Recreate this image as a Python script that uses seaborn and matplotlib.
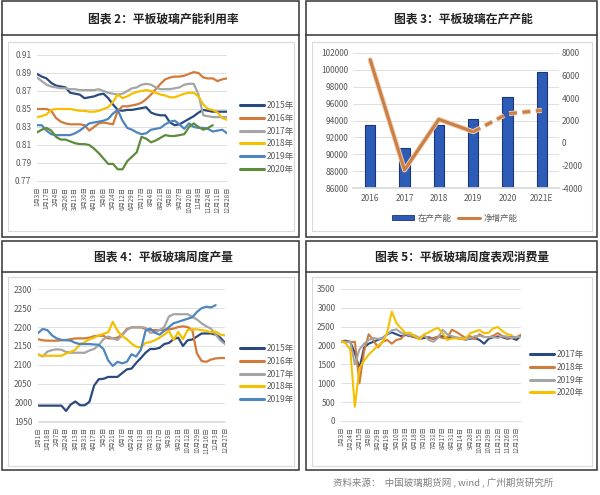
import numpy as np
import pandas as pd
import matplotlib
matplotlib.use('Agg')
import matplotlib.pyplot as plt
import matplotlib.patheffects as pe
from matplotlib.patches import Rectangle, Patch
from matplotlib.lines import Line2D
import seaborn as sns

sns.set_theme(style='white')
plt.rcParams['font.family'] = ['Noto Sans CJK SC', 'DejaVu Sans']
plt.rcParams['axes.unicode_minus'] = False

# ---------------- data: 图表2 平板玻璃产能利用率 ----------------
x1_labels = ['1月3日', '1月17日', '2月4日', '2月26日', '3月13日', '3月30日', '4月19日',
             '5月6日', '5月24日', '6月12日', '6月29日', '7月17日', '8月4日', '8月21日',
             '9月8日', '9月27日', '10月20日', '11月8日', '11月24日', '12月11日', '12月28日']
util_2015 = [0.889, 0.886, 0.884, 0.879, 0.876, 0.875, 0.874, 0.868, 0.867, 0.866, 0.862,
             0.863, 0.864, 0.866, 0.867, 0.862, 0.855, 0.849, 0.848, 0.849, 0.849, 0.850,
             0.851, 0.852, 0.846, 0.844, 0.843, 0.843, 0.835, 0.832, 0.833, 0.836, 0.839,
             0.842, 0.846, 0.849, 0.848, 0.847, 0.847, 0.847, 0.847]
util_2016 = [0.850, 0.850, 0.850, 0.848, 0.840, 0.836, 0.834, 0.833, 0.833, 0.833, 0.832,
             0.826, 0.830, 0.834, 0.835, 0.834, 0.833, 0.848, 0.853, 0.853, 0.854, 0.855,
             0.857, 0.861, 0.866, 0.872, 0.878, 0.883, 0.885, 0.886, 0.886, 0.887, 0.889,
             0.891, 0.890, 0.885, 0.884, 0.884, 0.881, 0.883, 0.884]
util_2017 = [0.885, 0.881, 0.877, 0.875, 0.874, 0.873, 0.873, 0.872, 0.872, 0.871, 0.871,
             0.871, 0.871, 0.872, 0.870, 0.868, 0.867, 0.866, 0.867, 0.870, 0.873, 0.874,
             0.877, 0.878, 0.877, 0.874, 0.872, 0.872, 0.872, 0.873, 0.874, 0.877, 0.878,
             0.878, 0.866, 0.843, 0.842, 0.841, 0.841, 0.841, 0.841]
util_2018 = [0.841, 0.842, 0.844, 0.849, 0.850, 0.850, 0.850, 0.850, 0.849, 0.848, 0.848,
             0.847, 0.847, 0.848, 0.850, 0.852, 0.858, 0.866, 0.862, 0.864, 0.867, 0.869,
             0.870, 0.871, 0.870, 0.868, 0.866, 0.865, 0.863, 0.863, 0.865, 0.867, 0.868,
             0.868, 0.864, 0.855, 0.850, 0.849, 0.846, 0.840, 0.838]
util_2019 = [0.832, 0.832, 0.826, 0.822, 0.821, 0.821, 0.821, 0.821, 0.823, 0.826, 0.830,
             0.834, 0.835, 0.836, 0.837, 0.839, 0.845, 0.849, 0.837, 0.829, 0.827, 0.824,
             0.822, 0.823, 0.827, 0.828, 0.829, 0.833, 0.836, 0.837, 0.833, 0.828, 0.834,
             0.830, 0.829, 0.829, 0.828, 0.825, 0.826, 0.827, 0.823]
util_2020 = [0.824, 0.827, 0.829, 0.826, 0.819, 0.816, 0.816, 0.814, 0.812, 0.811, 0.811,
             0.810, 0.806, 0.801, 0.795, 0.789, 0.789, 0.783, 0.783, 0.792, 0.797, 0.802,
             0.819, 0.817, 0.813, 0.815, 0.818, 0.821, 0.820, 0.820, 0.821, 0.822, 0.830,
             0.834, 0.830, 0.827, 0.829, 0.832, np.nan, np.nan, np.nan]

# ---------------- data: 图表3 平板玻璃在产产能 ----------------
cap_years = ['2016', '2017', '2018', '2019', '2020', '2021E']
cap_running = [93500, 90800, 93500, 94200, 96800, 99700]
cap_net_add = [7400, -2400, 2100, 1000, 2600, 2900]

# ---------------- data: 图表4 平板玻璃周度产量 ----------------
x3_labels = ['1月1日', '1月18日', '2月7日', '2月24日', '3月13日', '3月31日', '4月17日',
             '5月5日', '5月21日', '6月7日', '6月24日', '7月13日', '7月31日', '8月17日',
             '9月3日', '9月21日', '10月12日', '10月29日', '11月16日', '12月3日', '12月27日']
out_2015 = [1992, 1992, 1992, 1992, 1992, 1992, 1978, 1995, 2003, 1993, 1993, 2002, 2045,
            2062, 2063, 2068, 2068, 2068, 2078, 2088, 2090, 2105, 2118, 2132, 2142, 2142,
            2145, 2155, 2158, 2168, 2172, 2150, 2165, 2167, 2175, 2183, 2183, 2183, 2180,
            2172, 2158]
out_2016 = [2168, 2165, 2164, 2164, 2164, 2165, 2166, 2168, 2170, 2170, 2170, 2172, 2176,
            2177, 2177, 2170, 2170, 2172, 2180, 2195, 2199, 2199, 2199, 2195, 2192, 2192,
            2192, 2193, 2194, 2196, 2200, 2202, 2200, 2192, 2130, 2110, 2108, 2114, 2117,
            2118, 2118]
out_2017 = [2128, 2122, 2135, 2139, 2141, 2140, 2134, 2132, 2132, 2132, 2132, 2138, 2142,
            2152, 2168, 2175, 2170, 2166, 2178, 2192, 2200, 2200, 2200, 2198, 2185, 2186,
            2192, 2200, 2228, 2234, 2234, 2234, 2234, 2227, 2220, 2210, 2202, 2196, 2180,
            2165, 2155]
out_2018 = [2126, 2124, 2124, 2124, 2124, 2124, 2130, 2134, 2140, 2155, 2160, 2168, 2172,
            2178, 2182, 2186, 2214, 2190, 2176, 2168, 2156, 2148, 2146, 2158, 2160, 2165,
            2172, 2180, 2190, 2166, 2187, 2168, 2192, 2194, 2194, 2192, 2190, 2186, 2188,
            2180, 2178]
out_2019 = [2184, 2195, 2192, 2178, 2170, 2166, 2165, 2164, 2158, 2155, 2155, 2155, 2154,
            2153, 2142, 2112, 2097, 2108, 2104, 2108, 2128, 2122, 2140, 2190, 2196, 2185,
            2180, 2190, 2200, 2210, 2214, 2218, 2222, 2226, 2240, 2250, 2254, 2252, 2258,
            np.nan, np.nan]

# ---------------- data: 图表5 平板玻璃周度表观消费量 ----------------
x4_labels = ['1月3日', '1月24日', '2月15日', '3月8日', '3月29日', '4月19日', '5月10日',
             '5月31日', '6月18日', '7月10日', '7月31日', '8月17日', '8月31日', '9月14日',
             '9月28日', '10月15日', '10月29日', '11月12日', '11月26日', '12月13日']
con_2017 = [2110, 2130, 2100, 1800, 1400, 1950, 2050, 2100, 2150, 2200, 2300, 2350, 2300,
            2250, 2280, 2250, 2220, 2180, 2200, 2220, 2180, 2230, 2250, 2200, 2230, 2200,
            2180, 2160, 2180, 2200, 2150, 2050, 2180, 2220, 2240, 2220, 2180, 2200, 2150,
            2260]
con_2018 = [2100, 2110, 2090, 2100, 1000, 1850, 2300, 2150, 1950, 2100, 2150, 2050, 2150,
            2180, 2320, 2260, 2230, 2200, 2250, 2180, 2200, 2240, 2200, 2190, 2420, 2360,
            2280, 2200, 2250, 2170, 2300, 2230, 2220, 2260, 2330, 2250, 2200, 2240, 2220,
            2290]
con_2019 = [2120, 2080, 2100, 1500, 1900, 2050, 2150, 2200, 2180, 2190, 2300, 2400, 2430,
            2340, 2300, 2280, 2270, 2200, 2280, 2150, 2100, 2200, 2420, 2300, 2250, 2220,
            2200, 2160, 2200, 2250, 2260, 2230, 2220, 2230, 2200, 2250, 2240, 2200, 2230,
            2230]
con_2020 = [2130, 2060, 1900, 380, 1400, 1600, 1760, 1880, 2000, 2080, 2350, 2900, 2600,
            2460, 2330, 2340, 2250, 2160, 2300, 2350, 2420, 2470, 2330, 2150, 2190, 2190,
            2180, 2190, 2330, 2370, 2410, 2330, 2340, 2460, 2490, 2380, 2300, 2280, np.nan,
            np.nan]

# ---------------- style ----------------
C_NAVY = '#2A4A7F'
C_ORANGE = '#D27A3A'
C_GRAY = '#A5A5A5'
C_YELLOW = '#F5C000'
C_STEEL = '#4E86BF'
C_GREEN = '#5E8B3C'
TICK_C = '#595959'
GRID_C = '#D9D9D9'

W, H = 600, 495
fig = plt.figure(figsize=(6, 4.95), dpi=100)
fig.patch.set_facecolor('white')


def rect(x0, y0, x1, y1):
    return [x0 / W, 1 - y1 / H, (x1 - x0) / W, (y1 - y0) / H]


def box(x0, y0, x1, y1, color, lw):
    fig.add_artist(Rectangle((x0 / W, 1 - y1 / H), (x1 - x0) / W, (y1 - y0) / H,
                             transform=fig.transFigure, fill=False, ec=color, lw=lw))


def hline(x0, x1, y, color, lw):
    fig.add_artist(Line2D([x0 / W, x1 / W], [1 - y / H, 1 - y / H],
                          transform=fig.transFigure, color=color, lw=lw))


# frames
FR = '#333333'
for (x0, y0, x1, y1, ty) in [(2, 1, 299, 237, 35), (306, 1, 597, 237, 35),
                             (2, 241, 299, 470, 272), (306, 241, 597, 470, 272)]:
    box(x0, y0, x1, y1, FR, 1.1)
    hline(x0, x1, ty, FR, 1.1)
for (x0, y0, x1, y1) in [(8, 42, 294, 231), (312, 42, 592, 231),
                         (8, 277, 294, 466), (312, 277, 592, 466)]:
    box(x0, y0, x1, y1, '#D9D9D9', 0.8)

titles = [('图表 2：平板玻璃产能利用率', 163, 19), ('图表 3：平板玻璃在产产能', 463, 19),
          ('图表 4：平板玻璃周度产量', 163, 257), ('图表 5：平板玻璃周度表观消费量', 462, 257)]
for t, x, y in titles:
    fig.text(x / W, 1 - y / H, t, ha='center', va='center', fontsize=8.5,
             fontweight='bold', color='#222222')

fig.text(443 / W, 1 - 483 / H, '资料来源：  中国玻璃期货网 , wind , 广州期货研究所',
         ha='center', va='center', fontsize=6.8, color='#7F7F7F')


def style_line_axes(ax, xlabels, step, xmax, ylim, yticks, yfmt):
    ax.set_xlim(0, xmax)
    ax.set_ylim(*ylim)
    ax.set_xticks(np.arange(0, step * len(xlabels), step))
    ax.set_xticklabels(xlabels, rotation=90, fontsize=4.5, color=TICK_C)
    ax.set_yticks(yticks)
    ax.set_yticklabels([yfmt.format(v) for v in yticks], fontsize=6.0, color=TICK_C)
    ax.tick_params(length=0, pad=4)
    ax.tick_params(axis='x', pad=4)
    ax.grid(axis='y', color=GRID_C, lw=0.6)
    ax.grid(axis='x', visible=False)
    for s in ['top', 'right', 'left']:
        ax.spines[s].set_visible(False)
    ax.spines['bottom'].set_color(GRID_C)
    ax.spines['bottom'].set_linewidth(0.6)
    ax.set_xlabel('')
    ax.set_ylabel('')
    ax.set_facecolor('none')


def make_legend(ax, labels, colors, x, y, spacing):
    handles = [Line2D([0], [0], color=c, lw=2.2) for c in colors]
    ax.legend(handles, labels, loc='upper left', bbox_to_anchor=(x / W, 1 - y / H),
              bbox_transform=fig.transFigure, frameon=False, fontsize=6.1,
              handlelength=2.8, handletextpad=0.3, labelspacing=spacing, borderpad=0,
              borderaxespad=0, labelcolor=TICK_C)


# ---------------- panel 1 ----------------
ax1 = fig.add_axes(rect(37, 55, 227, 181))
yrs1 = ['2015年', '2016年', '2017年', '2018年', '2019年', '2020年']
cols1 = [C_NAVY, C_ORANGE, C_GRAY, C_YELLOW, C_STEEL, C_GREEN]
df1 = pd.DataFrame({'idx': np.arange(len(util_2015)), '2015年': util_2015, '2016年': util_2016,
                    '2017年': util_2017, '2018年': util_2018, '2019年': util_2019,
                    '2020年': util_2020})
long1 = df1.melt(id_vars='idx', var_name='year', value_name='v').dropna()
sns.lineplot(data=long1, x='idx', y='v', hue='year', hue_order=yrs1,
             palette=dict(zip(yrs1, cols1)), lw=1.6, errorbar=None, legend=False, ax=ax1)
style_line_axes(ax1, x1_labels, 2, 40, (0.77, 0.91), np.arange(0.77, 0.915, 0.02), '{:.2f}')
make_legend(ax1, yrs1, cols1, 240, 101, 0.45)

# ---------------- panel 2 ----------------
ax2 = fig.add_axes(rect(353, 53, 559, 188))
sns.barplot(x=cap_years, y=cap_running, color='#2D5CB8', width=0.3, ax=ax2,
            edgecolor='#1B3670', linewidth=0.8, saturation=1)
ax2.set_ylim(86000, 102000)
ax2.set_xlim(-0.5, 5.5)
ax2.set_yticks(np.arange(86000, 102001, 2000))
ax2.set_yticklabels([str(v) for v in range(86000, 102001, 2000)], fontsize=6.0, color=TICK_C)
ax2.tick_params(axis='y', length=0, pad=3.5)
ax2.tick_params(axis='x', length=0, pad=4.5, labelsize=6.0, labelcolor=TICK_C)
ax2.grid(axis='y', color=GRID_C, lw=0.6)
ax2.set_axisbelow(True)
for s in ['top', 'right', 'left']:
    ax2.spines[s].set_visible(False)
ax2.spines['bottom'].set_color(GRID_C)
ax2.set_facecolor('none')

ax2b = ax2.twinx()
line_kw = dict(color='#CB7F45', lw=2.2,
               path_effects=[pe.Stroke(linewidth=3.6, foreground='#EBCBAE'), pe.Normal()])
sns.lineplot(x=np.arange(4), y=cap_net_add[:4], ax=ax2b, errorbar=None, **line_kw)
sns.lineplot(x=np.arange(3, 6), y=cap_net_add[3:], ax=ax2b, errorbar=None,
             linestyle=(0, (2.6, 1.8)), **line_kw)
ax2b.set_ylim(-4000, 8000)
ax2b.set_yticks(np.arange(-4000, 8001, 2000))
ax2b.set_yticklabels([str(v) for v in range(-4000, 8001, 2000)], fontsize=6.0, color=TICK_C)
ax2b.tick_params(axis='y', length=0, pad=2)
for s in ax2b.spines.values():
    s.set_visible(False)
ax2b.grid(False)
ax2b.set_xlim(-0.5, 5.5)

leg_handles = [Patch(facecolor='#2D5CB8', edgecolor='#1B3670', lw=0.6),
               Line2D([0], [0], color='#CB7F45', lw=2.2)]
ax2b.legend(leg_handles, ['在产产能', '净增产能'], loc='center',
            bbox_to_anchor=(455 / W, 1 - 218 / H), bbox_transform=fig.transFigure,
            ncol=2, frameon=False, fontsize=6.1, handlelength=2.6, handleheight=0.5,
            handletextpad=0.4, columnspacing=0.8, labelcolor=TICK_C, borderpad=0)

# ---------------- panel 3 ----------------
ax3 = fig.add_axes(rect(38, 289.3, 225, 421.5))
yrs3 = ['2015年', '2016年', '2017年', '2018年', '2019年']
cols3 = [C_NAVY, C_ORANGE, C_GRAY, C_YELLOW, C_STEEL]
df3 = pd.DataFrame({'idx': np.arange(len(out_2015)), '2015年': out_2015, '2016年': out_2016,
                    '2017年': out_2017, '2018年': out_2018, '2019年': out_2019})
long3 = df3.melt(id_vars='idx', var_name='year', value_name='v').dropna()
sns.lineplot(data=long3, x='idx', y='v', hue='year', hue_order=yrs3,
             palette=dict(zip(yrs3, cols3)), lw=1.6, errorbar=None, legend=False, ax=ax3)
style_line_axes(ax3, x3_labels, 2, 40, (1950, 2300), np.arange(1950, 2301, 50), '{:d}')
make_legend(ax3, yrs3, cols3, 240, 344, 0.45)

# ---------------- panel 4 ----------------
ax4 = fig.add_axes(rect(341, 289, 521, 421))
yrs4 = ['2017年', '2018年', '2019年', '2020年']
cols4 = [C_NAVY, C_ORANGE, C_GRAY, C_YELLOW]
df4 = pd.DataFrame({'idx': np.arange(len(con_2017)), '2017年': con_2017, '2018年': con_2018,
                    '2019年': con_2019, '2020年': con_2020})
long4 = df4.melt(id_vars='idx', var_name='year', value_name='v').dropna()
sns.lineplot(data=long4, x='idx', y='v', hue='year', hue_order=yrs4,
             palette=dict(zip(yrs4, cols4)), lw=1.5, errorbar=None, legend=False, ax=ax4)
style_line_axes(ax4, x4_labels, 2, 39, (0, 3500), np.arange(0, 3501, 500), '{:d}')
make_legend(ax4, yrs4, cols4, 530, 350, 0.45)

fig.savefig('out.png', dpi=100, facecolor='white')
